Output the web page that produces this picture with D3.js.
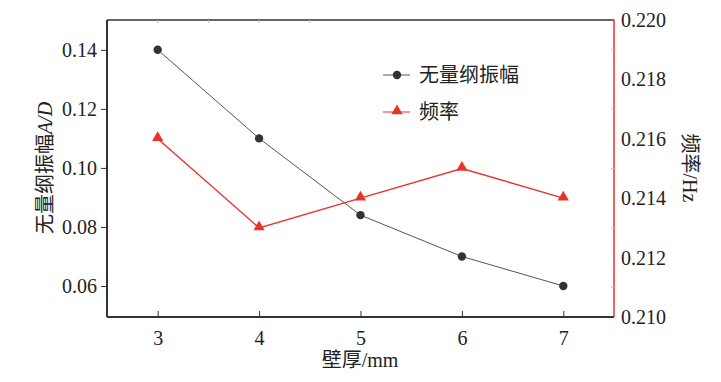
<!DOCTYPE html>
<html>
<head>
<meta charset="UTF-8" />
<title>wall thickness</title>
<script src="https://d3js.org/d3.v7.min.js"></script>
<style>
  body { margin: 0; background: #fff; }
  svg text { font-family: "Liberation Serif", "DejaVu Serif", "Noto Sans CJK SC", serif; fill: #222; }
</style>
</head>
<body>
<svg id="chart" width="721" height="382"></svg>
<script>
// data
var thickness = [3, 4, 5, 6, 7]
var amplitude = [0.140, 0.110, 0.084, 0.070, 0.060]
var frequency = [0.216, 0.213, 0.214, 0.215, 0.214]
var leftTicks = [0.06, 0.08, 0.10, 0.12, 0.14]
var rightTicks = [0.210, 0.212, 0.214, 0.216, 0.218, 0.220]

var red = "#e8332a"
var dark = "#333"
var serif = '"Liberation Serif", "Noto Sans CJK SC", serif'

var L = 107, R = 614, T = 20, B = 317
var svg = d3.select("#chart")

var x = d3.scaleLinear().domain([2.5, 7.5]).range([L, R])
var yL = d3.scaleLinear().domain([0.0495, 0.1501]).range([B, T])
var yR = d3.scaleLinear().domain([0.210, 0.220]).range([B, T])

// frame top + bottom
svg.append("line").attr("x1", L).attr("x2", R).attr("y1", T).attr("y2", T)
  .attr("stroke", "#333").attr("stroke-width", 1.5)
svg.append("line").attr("x1", L).attr("x2", R).attr("y1", B).attr("y2", B)
  .attr("stroke", "#333").attr("stroke-width", 2)

// faint minor ticks on top edge
svg.append("g").selectAll("line").data([3, 3.5, 4, 4.5]).join("line")
  .attr("x1", d => x(d)).attr("x2", d => x(d)).attr("y1", T).attr("y2", T + 3)
  .attr("stroke", "#bbb")

// bottom axis, ticks inward
var xAxis = svg.append("g").attr("transform", `translate(0,${B})`)
  .call(d3.axisBottom(x).tickValues(thickness).tickSize(-6).tickPadding(14).tickFormat(d3.format("d")))
xAxis.attr("font-family", null)
xAxis.select(".domain").remove()
xAxis.selectAll("line").attr("stroke", "#333")
xAxis.selectAll("text").style("font-size", "20px").style("font-family", serif).attr("fill", "#222")

// left axis, ticks outward
var lAxis = svg.append("g").attr("transform", `translate(${L},0)`)
  .call(d3.axisLeft(yL).tickValues(leftTicks).tickSize(6).tickPadding(4).tickFormat(d3.format(".2f")))
lAxis.attr("font-family", null)
lAxis.select(".domain").attr("d", `M0,${T}V${B}`).attr("stroke", "#333").attr("stroke-width", 2)
lAxis.selectAll("line").attr("stroke", "#333")
lAxis.selectAll("text").style("font-size", "20px").style("font-family", serif).attr("fill", "#222")

// right axis, red
var rAxis = svg.append("g").attr("transform", `translate(${R},0)`)
  .call(d3.axisRight(yR).tickValues(rightTicks).tickSize(0).tickPadding(7).tickFormat(d3.format(".3f")))
rAxis.attr("font-family", null)
rAxis.select(".domain").attr("d", `M0,${T}V${B}`).attr("stroke", red).attr("stroke-width", 1.5)
rAxis.selectAll("text").style("font-size", "20px").style("font-family", serif).attr("fill", "#222")
svg.append("g").selectAll("line").data(d3.range(0.211, 0.220, 0.002)).join("line")
  .attr("x1", R - 3).attr("x2", R).attr("y1", d => yR(d)).attr("y2", d => yR(d))
  .attr("stroke", "#f3b0a8")

// axis titles
svg.append("text").attr("x", 360).attr("y", 367).attr("text-anchor", "middle")
  .style("font-size", "20px").text("壁厚/mm")

var lt = svg.append("text").attr("transform", "translate(52,168) rotate(-90)")
  .attr("text-anchor", "middle").style("font-size", "20px")
lt.append("tspan").text("无量纲振幅")
lt.append("tspan").style("font-style", "italic").text("A/D")

svg.append("text").attr("transform", "translate(683,168) rotate(90)")
  .attr("text-anchor", "middle").style("font-size", "20px").text("频率/Hz")

// series
var lineA = d3.line().x((d, i) => x(thickness[i])).y(d => yL(d))
var lineF = d3.line().x((d, i) => x(thickness[i])).y(d => yR(d))

svg.append("path").attr("d", lineA(amplitude)).attr("fill", "none")
  .attr("stroke", "#555").attr("stroke-width", 1)
svg.append("path").attr("d", lineF(frequency)).attr("fill", "none")
  .attr("stroke", red).attr("stroke-width", 1.4)

svg.append("g").selectAll("circle").data(amplitude).join("circle")
  .attr("cx", (d, i) => x(thickness[i])).attr("cy", d => yL(d)).attr("r", 4.2)
  .attr("fill", dark)

var tri = d3.symbol().type(d3.symbolTriangle).size(55)
svg.append("g").selectAll("path").data(frequency).join("path")
  .attr("d", tri)
  .attr("transform", (d, i) => `translate(${x(thickness[i])},${yR(d) - 1})`)
  .attr("fill", red)

// legend
var lg = svg.append("g")
lg.append("line").attr("x1", 383).attr("x2", 410).attr("y1", 75).attr("y2", 75).attr("stroke", "#555")
lg.append("circle").attr("cx", 397).attr("cy", 75).attr("r", 4.2).attr("fill", dark)
lg.append("text").attr("x", 419).attr("y", 82).style("font-size", "20px").text("无量纲振幅")
lg.append("line").attr("x1", 383).attr("x2", 410).attr("y1", 112).attr("y2", 112).attr("stroke", red)
lg.append("path").attr("d", tri).attr("transform", "translate(397,111)").attr("fill", red)
lg.append("text").attr("x", 419).attr("y", 119).style("font-size", "20px").text("频率")
</script>
</body>
</html>
